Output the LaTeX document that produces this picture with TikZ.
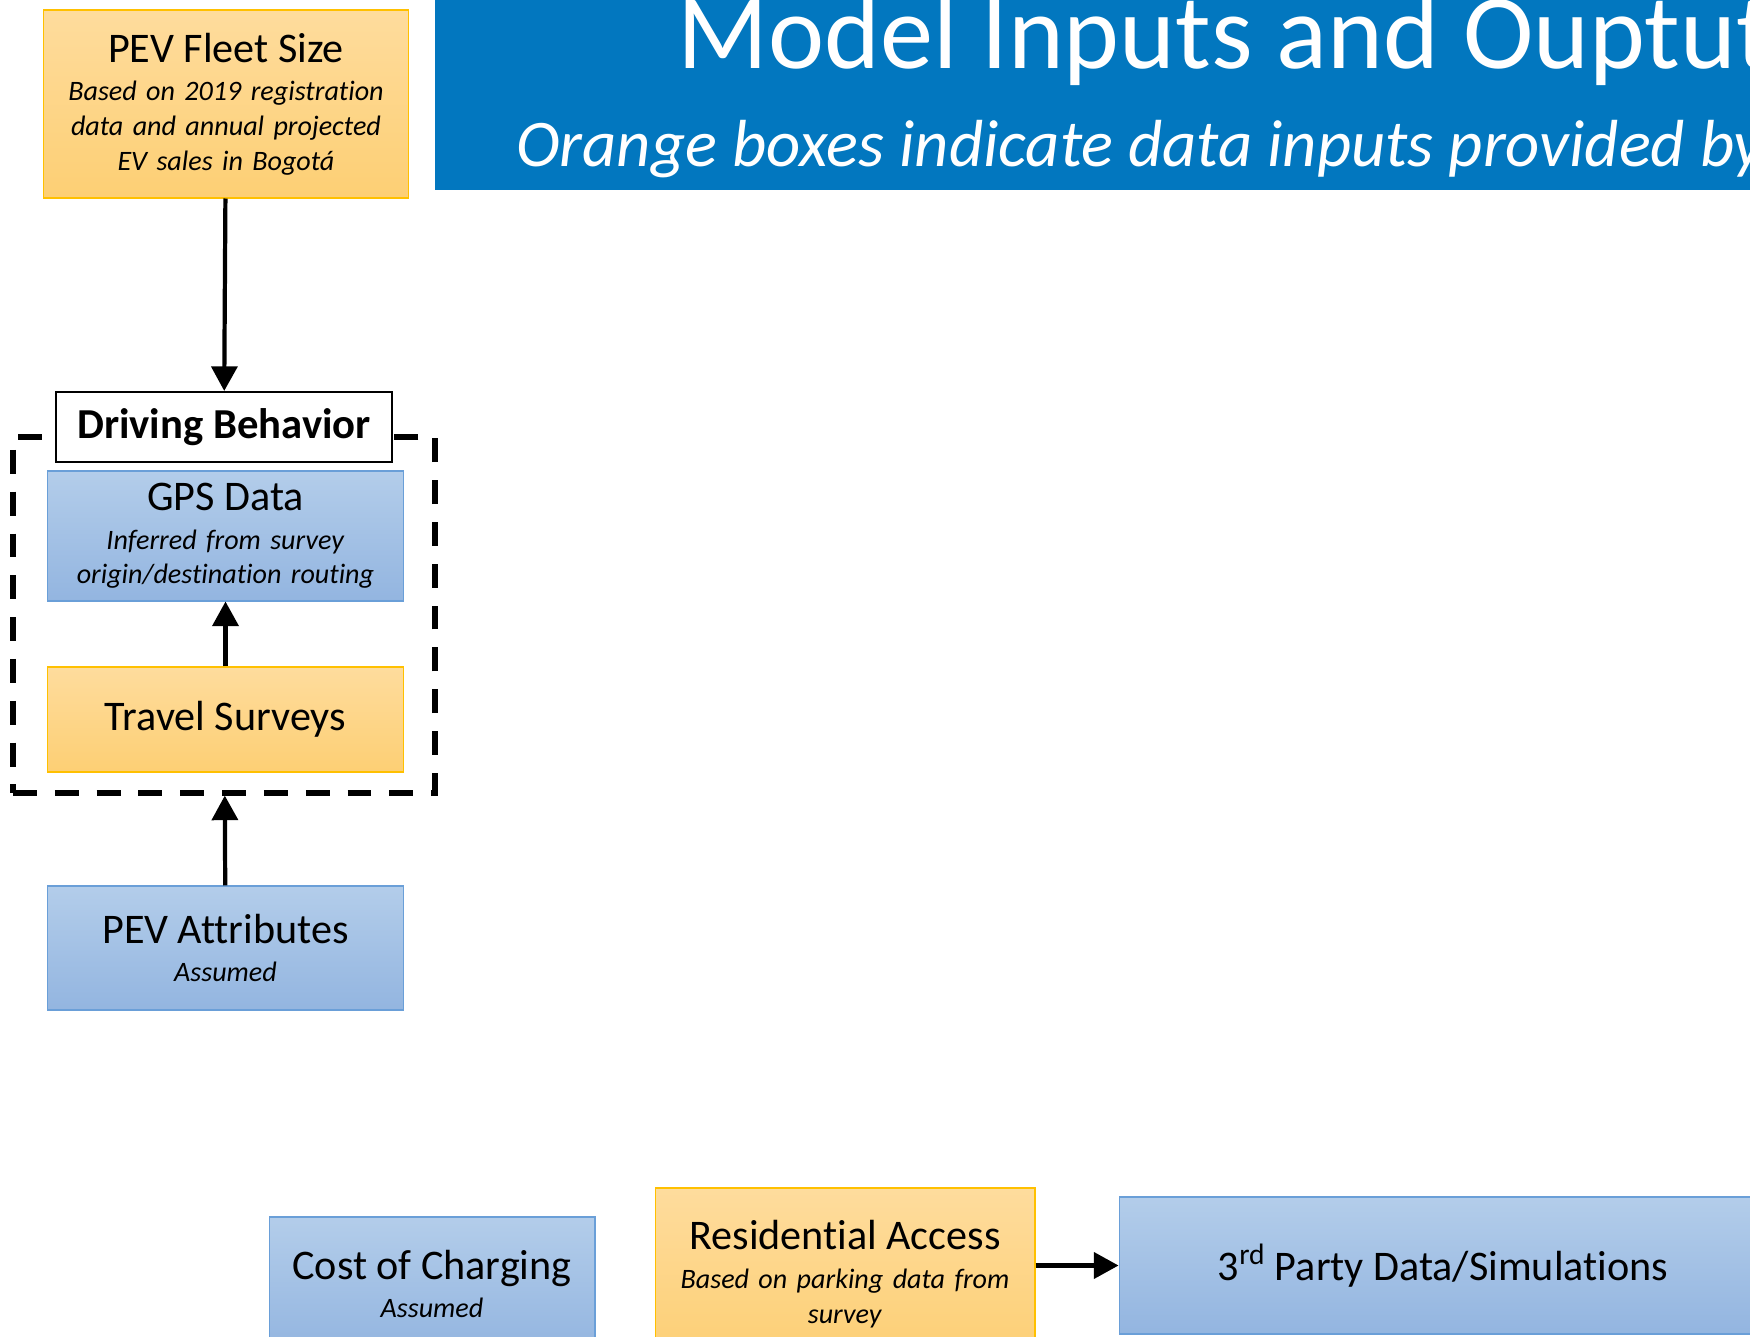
\documentclass[tikz,border=0pt]{standalone}
\usepackage{fontspec}
\setmainfont{Carlito}[Ligatures=NoCommon]
\usepackage{xcolor}
\usetikzlibrary{arrows.meta,positioning}

\definecolor{orangetop}{HTML}{FEDC9D}
\definecolor{orangebot}{HTML}{FDCF74}
\definecolor{orangeline}{HTML}{FFC000}
\definecolor{bluetop}{HTML}{B3CDEA}
\definecolor{bluebot}{HTML}{93B5E0}
\definecolor{blueline}{HTML}{6A9FD8}
\definecolor{bannerblue}{HTML}{0277BF}

\newcommand{\head}[1]{{\fontsize{24}{28}\selectfont #1}}
\newcommand{\note}[1]{\textit{#1}}

\begin{document}
\begin{tikzpicture}[x=0.02cm, y=-0.02cm,
  databox/.style={draw, rectangle, line width=0.6pt, align=center, inner sep=0pt, font=\fontsize{16}{19.9}\selectfont},
  orangebox/.style={databox, draw=orangeline, top color=orangetop, bottom color=orangebot},
  bluebox/.style={databox, draw=blueline, top color=bluetop, bottom color=bluebot},
  labelbox/.style={draw, rectangle, line width=1.2pt, fill=white, inner sep=0pt, font=\fontsize{24.3}{28}\selectfont\bfseries},
  dashframe/.style={draw, rectangle, line width=3pt, dash pattern=on 13.6pt off 10.2pt},
  link/.style={-{Triangle[width=14.7pt,length=14pt]}, line width=2.4pt},
  heading/.style={inner sep=0pt, anchor=base west, text=white}
]
\useasboundingbox (0,0) rectangle (1750,1337);
\clip (0,0) rectangle (1750,1337);

% Title banner
\node[fill=bannerblue, minimum width=27.3cm, minimum height=4cm, anchor=north west] (banner) at (435,-10) {};
\node[heading, font=\fontsize{60.5}{70}\selectfont] (title) at (677,69) {Model Inputs and Ouptut};
\node[heading, font=\fontsize{37.9}{45}\selectfont\itshape] (subtitle) at (516,167) {Orange boxes indicate data inputs provided by};

% Fleet and driving behavior
\node[orangebox, minimum width=7.32cm, minimum height=3.76cm, text width=7.1cm] (fleet) at (226,104)
  {\head{PEV Fleet Size}\\[2pt]\note{Based on 2019 registration}\\\note{data and annual projected}\\\note{EV sales in Bogotá}};

\node[dashframe, minimum width=8.44cm, minimum height=7.12cm] (frame) at (224,615) {};
\node[labelbox, minimum width=6.72cm, minimum height=1.4cm] (drive) at (224,427) {Driving Behavior};

\node[bluebox, minimum width=7.14cm, minimum height=2.6cm, text width=7cm] (gps) at (225.5,536)
  {\head{GPS Data}\\[2pt]\note{Inferred from survey}\\\note{origin/destination routing}};
\node[orangebox, minimum width=7.14cm, minimum height=2.1cm, text width=7cm] (travel) at (225.5,719.5)
  {\head{Travel Surveys}};

\node[bluebox, minimum width=7.14cm, minimum height=2.48cm, text width=7cm] (attr) at (225.5,948)
  {\head{PEV Attributes}\\[2pt]\note{Assumed}};

% Bottom row
\node[bluebox, minimum width=6.52cm, minimum height=2.68cm, text width=6.4cm] (cost) at (432,1284)
  {\head{Cost of Charging}\\[2pt]\note{Assumed}};
\node[orangebox, minimum width=7.6cm, minimum height=3.44cm, text width=7.4cm] (res) at (845,1274)
  {\head{Residential Access}\\[2pt]\note{Based on parking data from}\\\note{survey}};
\node[bluebox, minimum width=12.96cm, minimum height=2.74cm, text width=12.5cm] (third) at (1443,1265.5)
  {\head{3\textsuperscript{rd} Party Data/Simulations}};

% Arrows
\draw[link] (fleet) -- (drive);
\draw[link] (travel) -- (gps);
\draw[link] (attr) -- (frame);
\draw[link] (third.west -| res.east) -- (third.west);

\end{tikzpicture}
\end{document}
